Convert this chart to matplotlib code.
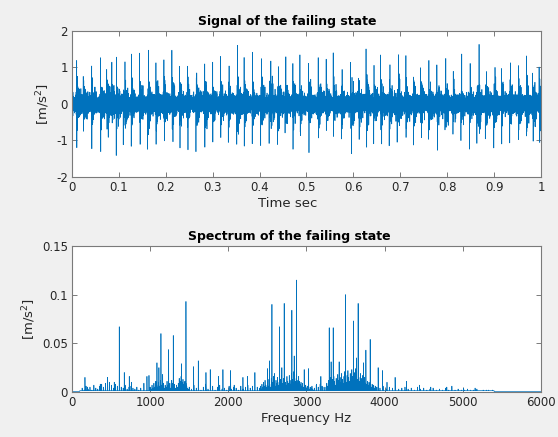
import numpy as np
import matplotlib.pyplot as plt
from matplotlib.ticker import FuncFormatter

fs = 12000          # sampling rate, Hz
n_samples = 12000   # one second of data

# dominant spectral lines (Hz, amplitude m/s^2)
peak_freq = [0, 166, 200, 362, 456, 541, 605, 669, 733, 760, 920, 959, 985,
             1087, 1112, 1138, 1160, 1236, 1296, 1402, 1458, 1556, 1616, 1714,
             1769, 1875, 1931, 2029, 2075, 2187, 2246, 2340, 2502, 2528, 2558,
             2590, 2656, 2685, 2715, 2813, 2843, 2873, 2971, 3027, 3129, 3184,
             3291, 3315, 3342, 3418, 3500, 3602, 3640, 3661, 3729, 3760, 3815,
             3917, 3973, 4030, 4134, 4280, 4446, 4590, 4795, 4860, 5010, 5157,
             5330]
peak_amp = [0.009, 0.015, 0.005, 0.008, 0.015, 0.010, 0.067, 0.020, 0.016,
            0.010, 0.009, 0.016, 0.017, 0.030, 0.025, 0.060, 0.018, 0.0435,
            0.058, 0.029, 0.093, 0.026, 0.032, 0.020, 0.023, 0.016, 0.023,
            0.022, 0.007, 0.015, 0.016, 0.020, 0.024, 0.032, 0.090, 0.019,
            0.067, 0.025, 0.091, 0.084, 0.037, 0.115, 0.023, 0.024, 0.008,
            0.016, 0.066, 0.031, 0.066, 0.031, 0.100, 0.073, 0.035, 0.091,
            0.030, 0.043, 0.054, 0.025, 0.022, 0.010, 0.015, 0.011, 0.007,
            0.005, 0.005, 0.006, 0.004, 0.004, 0.002]

# low-level content between the main lines: (start Hz, spacing Hz, amplitudes)
clutter_bands = [
    (130, 25, [.004, .002, .006, .003, .005, .002, .007, .004, .003, .006, .008,
               .005, .009, .006, .010, .007, .004, .008, .006, .009, .005, .004,
               .007, .003, .005, .006, .004, .003, .005, .002, .004]),
    (1000, 12, [.005, .003, .007, .004, .009, .005, .011, .007, .005, .010, .006,
                .012, .007, .004, .009, .004, .007, .005, .011, .007, .005, .009,
                .004, .012, .009, .005, .008, .004, .007, .005, .009, .014, .011,
                .016, .010, .013, .008, .011, .009, .006, .004, .003]),
    (1500, 30, [.005, .003, .007, .004, .006, .002, .005, .008, .003, .004, .006,
                .002, .005, .007, .003, .004, .002, .006, .003, .005, .004, .002,
                .006, .003, .005, .007, .004, .006, .008, .005]),
    (2400, 10, [.004, .006, .003, .008, .005, .010, .006, .012, .007, .005, .011,
                .006, .013, .008, .005, .014, .007, .010, .016, .008, .006, .012,
                .009, .015, .007, .010, .005, .013, .017, .009, .008, .014, .018,
                .010, .007, .016, .011, .009, .017, .012, .008, .019, .013, .010,
                .021, .014, .011, .018, .012, .009, .016, .011, .008, .010, .006,
                .009, .005, .008, .004, .007, .004, .006, .003, .005, .003, .005,
                .004, .006, .003, .002]),
    (3100, 25, [.004, .007, .005, .008, .006, .005]),
    (3250, 10, [.005, .009, .006, .012, .007, .010, .015, .008, .013, .009, .016,
                .011, .007, .014, .009, .018, .012, .008, .015, .010, .019, .013,
                .009, .016, .021, .014, .010, .017, .022, .015, .011, .019, .013,
                .023, .016, .012, .020, .014, .024, .017, .013, .021, .015, .011,
                .019, .014, .010, .017, .011, .015, .009, .013, .008, .011, .007,
                .010, .006, .009, .005, .008, .004, .007, .004, .006, .003]),
    (3900, 40, [.005, .004, .006, .003, .005, .004, .006, .003, .004, .005, .003,
                .004, .002, .005, .003, .004, .002, .003, .004, .002, .003, .002,
                .004, .002, .003, .002, .003, .002, .002, .003, .002, .002, .003,
                .001, .002, .002, .001, .002]),
]

# broadband floor: band edges (Hz) and level
floor_edges = [0, 100, 5400, 6001]
floor_levels = [0.0006, 0.0015, 0.0004]

# impacts in the time record: time (s) and peak value (m/s^2)
up_time = [0.010, 0.024, 0.042, 0.061, 0.074, 0.085, 0.095, 0.113, 0.127,
           0.144, 0.163, 0.179, 0.196, 0.213, 0.229, 0.246, 0.266, 0.283,
           0.300, 0.317, 0.335, 0.353, 0.367, 0.385, 0.404, 0.424, 0.440,
           0.456, 0.471, 0.486, 0.504, 0.525, 0.542, 0.557, 0.576, 0.594,
           0.611, 0.627, 0.644, 0.658, 0.678, 0.696, 0.712, 0.728, 0.743,
           0.761, 0.778, 0.797, 0.813, 0.831, 0.849, 0.868, 0.884, 0.902,
           0.916, 0.935, 0.952, 0.969, 0.982, 0.996]
up_value = [1.32, 0.95, 1.16, 1.14, 1.07, 0.95, 1.12, 1.28, 1.16, 1.21, 1.16,
            1.13, 1.07, 1.46, 1.03, 1.25, 1.16, 1.13, 0.98, 1.12, 0.89, 1.53,
            1.12, 1.23, 1.21, 1.32, 1.13, 1.32, 1.04, 1.29, 1.05, 1.16, 1.10,
            1.23, 0.93, 1.16, 0.89, 1.41, 1.03, 1.37, 1.07, 1.23, 1.21, 0.84,
            1.12, 1.10, 1.10, 1.03, 1.01, 1.12, 0.98, 1.41, 1.03, 1.21, 0.89,
            1.07, 1.30, 1.47, 0.89, 0.98]
down_time = [0.010, 0.024, 0.042, 0.061, 0.077, 0.094, 0.109, 0.126, 0.145,
             0.161, 0.179, 0.197, 0.215, 0.230, 0.247, 0.264, 0.283, 0.300,
             0.317, 0.333, 0.351, 0.367, 0.384, 0.402, 0.420, 0.438, 0.454,
             0.471, 0.487, 0.505, 0.525, 0.542, 0.557, 0.574, 0.596, 0.612,
             0.628, 0.643, 0.660, 0.676, 0.693, 0.712, 0.728, 0.745, 0.760,
             0.779, 0.795, 0.812, 0.829, 0.847, 0.863, 0.881, 0.899, 0.916,
             0.933, 0.952, 0.969, 0.983, 0.997]
down_value = [-1.18, -0.95, -1.07, -1.18, -0.98, -1.22, -0.99, -1.20, -1.13,
              -1.25, -1.13, -1.04, -0.99, -1.10, -1.07, -1.20, -1.22, -1.10,
              -0.92, -1.09, -0.99, -1.18, -1.07, -1.20, -1.13, -1.18, -0.95,
              -1.13, -1.04, -1.16, -0.95, -0.83, -0.92, -1.04, -1.25, -1.04,
              -1.20, -1.04, -1.09, -1.25, -1.16, -1.04, -1.13, -0.99, -1.09,
              -1.13, -0.92, -1.01, -0.95, -1.13, -0.99, -0.95, -1.13, -1.07,
              -0.95, -1.18, -1.07, -1.09, -0.95]

# decay of the ringing that follows each impact (every 9th sample, sign flips)
ring_env = [1.0, 0.5, 0.45, 0.4, 0.36, 0.32, 0.28, 0.25, 0.22, 0.19, 0.16,
            0.13, 0.1]
ring_step = 9

# single-sided amplitude spectrum on a 1 Hz grid
freq = np.arange(n_samples // 2 + 1) * fs / n_samples
broadband = np.zeros_like(freq)
for lo, hi, lev in zip(floor_edges[:-1], floor_edges[1:], floor_levels):
    broadband[lo:hi] = lev
for start, step, amps in clutter_bands:
    for i, a in enumerate(amps):
        broadband[start + i * step] = max(broadband[start + i * step], a)
spec = broadband.copy()
for f, a in zip(peak_freq, peak_amp):
    spec[f] = a

# time record: broadband part of the spectrum as background (quadratic
# phase spread so components don't pile up), impacts carry the tonal lines
k = np.arange(len(broadband))
phase = 2 * np.pi * ((k * k * 0.6180339887) % 1.0)
X = broadband * n_samples / 2 * np.exp(1j * phase)
X[0] = 0
signal = np.fft.irfft(X, n=n_samples)
t = np.arange(n_samples) / fs


def add_impact(sig, i0, value):
    for j, e in enumerate(ring_env):
        idx = i0 + j * ring_step
        if idx < len(sig):
            sig[idx] += value * e * (-1) ** j


for tt, v in zip(up_time, up_value):
    add_impact(signal, int(round(tt * fs)), v)
for tt, v in zip(down_time, down_value):
    add_impact(signal, int(round(tt * fs)) + 4, v)

plt.rcParams['font.family'] = ['DejaVu Sans']
blue = '#0072BD'
edge = '#7a7a7a'
txt = '#262626'

fig = plt.figure(figsize=(5.58, 4.37), dpi=100, facecolor='#f0f0f0')
ax1 = fig.add_axes([0.129, 0.5957, 0.8405, 0.3334])
ax2 = fig.add_axes([0.129, 0.103, 0.8405, 0.334])

ax1.plot(t, signal, color=blue, lw=0.5)
ax1.set_xlim(0, 1)
ax1.set_ylim(-2, 2)
ax1.set_xticks(np.arange(0, 1.01, 0.1))
ax1.set_yticks([-2, -1, 0, 1, 2])
ax1.set_title('Signal of the failing state', fontsize=9, fontweight='bold',
              color='black', pad=4, x=0.46)
ax1.set_xlabel('Time sec', fontsize=9.5, color=txt, labelpad=2, x=0.46)
ax1.set_ylabel('[m/s$^2$]', fontsize=9.5, color=txt, labelpad=3)

ax2.plot(freq, spec, color=blue, lw=0.5)
ax2.set_xlim(0, 6000)
ax2.set_ylim(0, 0.15)
ax2.set_xticks(np.arange(0, 6001, 1000))
ax2.set_yticks([0, 0.05, 0.1, 0.15])
ax2.set_title('Spectrum of the failing state', fontsize=9, fontweight='bold',
              color='black', pad=4, x=0.463)
ax2.set_xlabel('Frequency Hz', fontsize=9.5, color=txt, labelpad=2)
ax2.set_ylabel('[m/s$^2$]', fontsize=9.5, color=txt, labelpad=3)

fmt = FuncFormatter(lambda v, _: ('%g' % round(v, 6)))
for ax in (ax1, ax2):
    ax.set_facecolor('white')
    ax.xaxis.set_major_formatter(fmt)
    ax.yaxis.set_major_formatter(fmt)
    ax.tick_params(direction='in', length=3.5, width=0.7, color=edge,
                   labelcolor=txt, labelsize=8.5, top=True, right=True, pad=3)
    for s in ax.spines.values():
        s.set_color(edge)
        s.set_linewidth(0.8)

fig.savefig('out.png', dpi=100, facecolor=fig.get_facecolor())
